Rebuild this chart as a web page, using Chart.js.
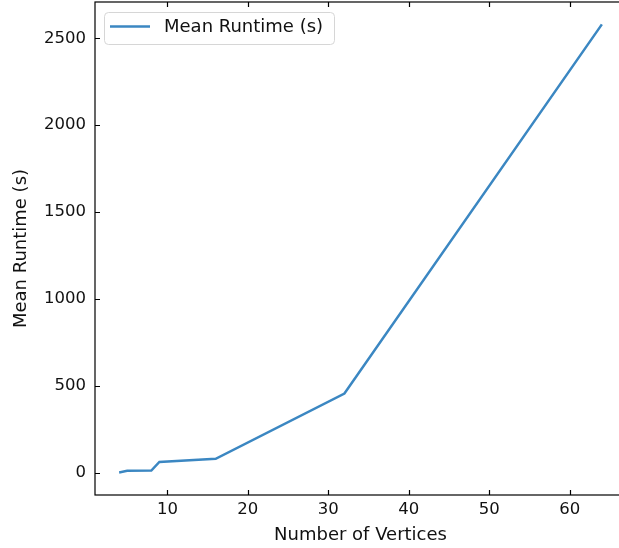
<!DOCTYPE html>
<html>
<head>
<meta charset="utf-8">
<script src="https://cdn.jsdelivr.net/npm/chart.js@4"></script>
<style>
  html, body { margin: 0; padding: 0; background: #fff; }
  #wrap { width: 619px; height: 548px; overflow: hidden; position: relative; }
  canvas { display: block; }
</style>
</head>
<body>
<div id="wrap"><canvas id="runtime" width="630" height="548"></canvas></div>
<script>
const vertices = [4, 5, 8, 9, 16, 32, 64];
const meanRuntime = [1, 10, 12, 61, 79, 455, 2580];
const xTicks = [10, 20, 30, 40, 50, 60];
const yTicks = [0, 500, 1000, 1500, 2000, 2500];
const seriesLabel = 'Mean Runtime (s)';

const lineColor = '#3b87c2';
const font = 'DejaVu Sans';

// spines, inward tick marks and a legend box inside the plot
const frame = {
    id: 'frame',
    afterDatasetsDraw(chart) {
        const c = chart.ctx;
        const a = chart.chartArea;
        const xs = chart.scales.x, ys = chart.scales.y;
        c.save();
        c.strokeStyle = '#000';
        c.lineWidth = 1.2;
        c.strokeRect(a.left, a.top, a.right - a.left, a.bottom - a.top);
        c.beginPath();
        xTicks.forEach(v => {
            const px = Math.round(xs.getPixelForValue(v)) + 0.5;
            c.moveTo(px, a.bottom); c.lineTo(px, a.bottom - 5);
            c.moveTo(px, a.top); c.lineTo(px, a.top + 5);
        });
        yTicks.forEach(v => {
            const py = Math.round(ys.getPixelForValue(v)) + 0.5;
            c.moveTo(a.left, py); c.lineTo(a.left + 5, py);
            c.moveTo(a.right, py); c.lineTo(a.right - 5, py);
        });
        c.stroke();

        // legend
        const bx = a.left + 9, by = a.top + 10, bw = 230, bh = 32, r = 4;
        c.beginPath();
        c.roundRect(bx + 0.5, by + 0.5, bw, bh, r);
        c.fillStyle = 'rgba(255,255,255,0.8)';
        c.fill();
        c.strokeStyle = '#d6d6d6';
        c.lineWidth = 1;
        c.stroke();
        c.beginPath();
        c.moveTo(bx + 6, by + 14.5);
        c.lineTo(bx + 46, by + 14.5);
        c.strokeStyle = lineColor;
        c.lineWidth = 2.5;
        c.stroke();
        c.fillStyle = '#111';
        c.font = '18px "' + font + '"';
        c.textBaseline = 'middle';
        c.fillText(seriesLabel, bx + 60, by + 15);
        c.restore();
    }
};

new Chart(document.getElementById('runtime').getContext('2d'), {
    type: 'line',
    data: {
        labels: vertices,
        datasets: [{
            label: seriesLabel,
            data: vertices.map((v, i) => ({ x: v, y: meanRuntime[i] })),
            borderColor: lineColor,
            borderWidth: 2.5,
            pointRadius: 0,
            tension: 0,
            fill: false
        }]
    },
    options: {
        responsive: false,
        animation: false,
        events: [],
        layout: { padding: { top: 2, right: 4, left: 0, bottom: 0 } },
        plugins: { legend: { display: false }, tooltip: { enabled: false } },
        scales: {
            x: {
                type: 'linear',
                min: 1,
                max: 67,
                grid: { display: false, drawTicks: false },
                border: { display: false },
                afterBuildTicks: s => { s.ticks = xTicks.map(v => ({ value: v })); },
                afterFit: s => { s.height = 53; s.paddingLeft = 0; s.paddingRight = 0; },
                ticks: { color: '#111', padding: 5, font: { family: font, size: 16.5 }, maxRotation: 0, callback: v => String(v) },
                title: { display: true, text: 'Number of Vertices', color: '#111', padding: { top: 0, bottom: 2 }, font: { family: font, size: 18 } }
            },
            y: {
                min: -129,
                max: 2709,
                grid: { display: false, drawTicks: false },
                border: { display: false },
                afterBuildTicks: s => { s.ticks = yTicks.map(v => ({ value: v })); },
                afterFit: s => { s.width = 95; s.paddingTop = 0; s.paddingBottom = 0; },
                ticks: { color: '#111', padding: 9, font: { family: font, size: 16.5 }, callback: v => String(v) },
                title: { display: true, text: 'Mean Runtime (s)', color: '#111', padding: { top: 11, bottom: 0 }, font: { family: font, size: 18 } }
            }
        }
    },
    plugins: [frame]
});
</script>
</body>
</html>
